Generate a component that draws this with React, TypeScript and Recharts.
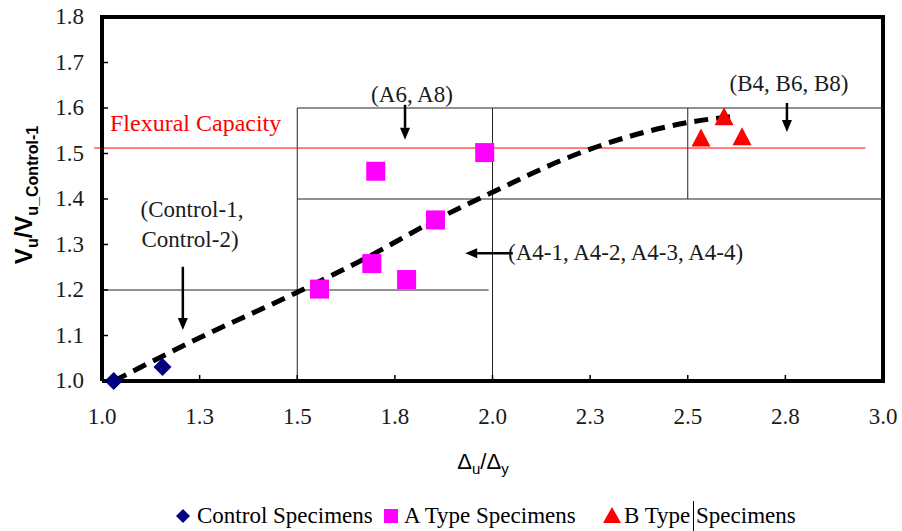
import React from 'react';
import { ComposedChart, Scatter, Line, XAxis, YAxis, ReferenceLine } from 'recharts';

// axis ticks
const xTicks = [1.0, 1.25, 1.5, 1.75, 2.0, 2.25, 2.5, 2.75, 3.0];
const yTicks = [1.0, 1.1, 1.2, 1.3, 1.4, 1.5, 1.6, 1.7, 1.8];

// specimens (Δu/Δy, Vu/Vu_Control-1)
const controlX = [1.03, 1.155];
const controlY = [1.0, 1.031];
const aTypeX = [1.557, 1.691, 1.78, 1.701, 1.98, 1.854];
const aTypeY = [1.202, 1.258, 1.223, 1.461, 1.502, 1.354];
const bTypeX = [2.534, 2.593, 2.639];
const bTypeY = [1.535, 1.582, 1.538];

// dashed trend line
const trendX = [1.03, 1.25, 1.5, 1.68, 1.85, 2.0, 2.22, 2.5, 2.62];
const trendY = [1.0, 1.095, 1.195, 1.272, 1.352, 1.415, 1.5, 1.568, 1.582];

const flexuralCapacity = 1.512;

const SERIF = '"Liberation Serif", "Times New Roman", serif';
const SANS = '"Liberation Sans", Arial, sans-serif';

const toPoints = (xs: number[], ys: number[]) => xs.map((x, i) => ({ x, y: ys[i] }));

const controlData = toPoints(controlX, controlY);
const aTypeData = toPoints(aTypeX, aTypeY);
const bTypeData = toPoints(bTypeX, bTypeY);
const trendData = toPoints(trendX, trendY);

const Diamond = (p: any) => (
  <polygon
    points={`${p.cx},${p.cy - 9} ${p.cx + 9},${p.cy} ${p.cx},${p.cy + 9} ${p.cx - 9},${p.cy}`}
    fill="#000080"
  />
);
const Square = (p: any) => <rect x={p.cx - 9.5} y={p.cy - 9.5} width={19} height={19} fill="#FF00FF" />;
const Triangle = (p: any) => (
  <polygon
    points={`${p.cx},${p.cy - 9} ${p.cx + 9.5},${p.cy + 9} ${p.cx - 9.5},${p.cy + 9}`}
    fill="#FF0000"
  />
);

const Y_MARGIN = 18;
const X_MARGIN = 43;

const YTick = (props: any) => {
  const { x, y, payload } = props;
  return (
    <g>
      <line x1={x + Y_MARGIN} x2={x + Y_MARGIN + 6} y1={y} y2={y} stroke="#000" strokeWidth={1.5} />
      <text x={x} y={y + 7} textAnchor="end" fontFamily={SERIF} fontSize={23} fill="#1a1a1a">
        {payload.value.toFixed(1)}
      </text>
    </g>
  );
};

const XTick = (props: any) => {
  const { x, y, payload } = props;
  return (
    <g>
      <line x1={x} x2={x} y1={y - X_MARGIN} y2={y - X_MARGIN - 6} stroke="#000" strokeWidth={1.5} />
      <text x={x} y={y} textAnchor="middle" fontFamily={SERIF} fontSize={23} fill="#1a1a1a">
        {payload.value.toFixed(1)}
      </text>
    </g>
  );
};

// arrow drawn from (x1,y1) to (x2,y2) with a filled head at the end
const Arrow = (props: any) => {
  const { x1, y1, x2, y2 } = props;
  const ang = Math.atan2(y2 - y1, x2 - x1);
  const len = 12;
  const half = 5;
  const bx = x2 - len * Math.cos(ang);
  const by = y2 - len * Math.sin(ang);
  const px = -Math.sin(ang) * half;
  const py = Math.cos(ang) * half;
  return (
    <g>
      <line x1={x1} y1={y1} x2={bx} y2={by} stroke="#000" strokeWidth={2.5} />
      <polygon points={`${x2},${y2} ${bx + px},${by + py} ${bx - px},${by - py}`} fill="#000" />
    </g>
  );
};

const boxLines = [
  [{ x: 1.5, y: 1.6 }, { x: 3.0, y: 1.6 }],
  [{ x: 1.5, y: 1.4 }, { x: 3.0, y: 1.4 }],
  [{ x: 1.0, y: 1.2 }, { x: 1.99, y: 1.2 }],
  [{ x: 1.5, y: 1.0 }, { x: 1.5, y: 1.6 }],
  [{ x: 2.0, y: 1.0 }, { x: 2.0, y: 1.6 }],
  [{ x: 2.5, y: 1.4 }, { x: 2.5, y: 1.6 }],
];

const arrows = [
  [{ x: 1.776, y: 1.607 }, { x: 1.776, y: 1.53 }],
  [{ x: 2.754, y: 1.611 }, { x: 2.754, y: 1.547 }],
  [{ x: 1.207, y: 1.251 }, { x: 1.207, y: 1.112 }],
  [{ x: 2.052, y: 1.281 }, { x: 1.93, y: 1.281 }],
];

export default function App() {
  return (
    <div style={{ position: 'absolute', left: 0, top: 0, width: 902, height: 531, background: '#fff' }}>
      <ComposedChart width={902} height={531} margin={{ top: 17, right: 19, bottom: 0, left: 0 }}>
        <XAxis
          dataKey="x"
          type="number"
          domain={[1, 3]}
          ticks={xTicks}
          height={150}
          tickSize={0}
          tickMargin={X_MARGIN}
          tickLine={false}
          axisLine={{ stroke: '#000', strokeWidth: 4 }}
          tick={<XTick />}
          interval={0}
        />
        <YAxis
          type="number"
          domain={[1, 1.8]}
          ticks={yTicks}
          width={102}
          tickSize={0}
          tickMargin={Y_MARGIN}
          tickLine={false}
          axisLine={{ stroke: '#000', strokeWidth: 4 }}
          tick={<YTick />}
          interval={0}
        />
        <ReferenceLine y={1.8} stroke="#000" strokeWidth={4} strokeLinecap="square" />
        <ReferenceLine x={3.0} stroke="#000" strokeWidth={4} strokeLinecap="square" />
        {boxLines.map((seg, i) => (
          <ReferenceLine key={`box${i}`} segment={seg} stroke="#222" strokeWidth={1} />
        ))}
        <ReferenceLine
          segment={[{ x: 0.98, y: flexuralCapacity }, { x: 2.955, y: flexuralCapacity }]}
          stroke="#FF0000"
          strokeWidth={1}
          ifOverflow="visible"
        />
        {arrows.map((seg, i) => (
          <ReferenceLine key={`arr${i}`} segment={seg} shape={(p: any) => <Arrow {...p} />} />
        ))}
        <Scatter data={controlData} dataKey="y" shape={Diamond} isAnimationActive={false} />
        <Scatter data={aTypeData} dataKey="y" shape={Square} isAnimationActive={false} />
        <Scatter data={bTypeData} dataKey="y" shape={Triangle} isAnimationActive={false} />
        <Line
          data={trendData}
          dataKey="y"
          type="monotone"
          stroke="#000"
          strokeWidth={5}
          strokeDasharray="14 8"
          dot={false}
          activeDot={false}
          isAnimationActive={false}
        />
      </ComposedChart>
      <svg
        width={902}
        height={531}
        style={{ position: 'absolute', left: 0, top: 0, pointerEvents: 'none' }}
      >
        <g fontFamily={SERIF} fontSize={23} fill="#1a1a1a">
          <text x={110} y={131} fill="#FF0000" fontSize={24}>Flexural Capacity</text>
          <text x={412} y={102} textAnchor="middle">(A6, A8)</text>
          <text x={789} y={91} textAnchor="middle">(B4, B6, B8)</text>
          <text x={192} y={217} textAnchor="middle">(Control-1,</text>
          <text x={190} y={247} textAnchor="middle">Control-2)</text>
          <text x={508} y={260}>(A4-1, A4-2, A4-3, A4-4)</text>
        </g>
        <text
          transform="translate(32,195) rotate(-90)"
          textAnchor="middle"
          fontFamily={SANS}
          fontWeight="bold"
          fontSize={24}
          fill="#000"
        >
          V<tspan fontSize={16} dy={6}>u</tspan>
          <tspan dy={-6}>/V</tspan>
          <tspan fontSize={16} dy={6}>u_Control-1</tspan>
        </text>
        <text x={483} y={469} textAnchor="middle" fontFamily={SANS} fontSize={22} fill="#000">
          Δ<tspan fontSize={15} dy={5}>u</tspan>
          <tspan dy={-5}>/Δ</tspan>
          <tspan fontSize={15} dy={5}>y</tspan>
        </text>
        <g fontFamily={SERIF} fontSize={23} fill="#000">
          <polygon points="183,509 190,516 183,523 176,516" fill="#000080" />
          <text x={197} y={523}>Control Specimens</text>
          <rect x={384} y={509} width={14} height={14} fill="#FF00FF" />
          <text x={404} y={523}>A Type Specimens</text>
          <polygon points="612,507 621,523 603,523" fill="#FF0000" />
          <text x={624} y={523}>B Type Specimens</text>
          <line x1={693.5} x2={693.5} y1={501} y2={531} stroke="#000" strokeWidth={1} />
        </g>
      </svg>
    </div>
  );
}
